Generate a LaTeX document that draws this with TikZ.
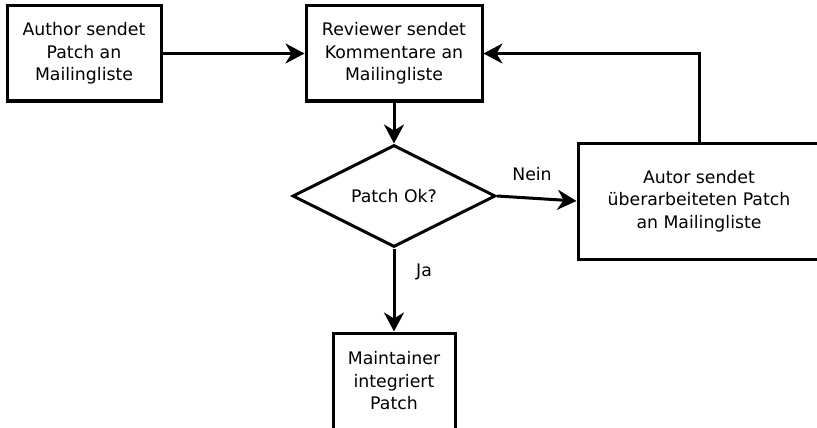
\documentclass[tikz,border=0pt]{standalone}
\usepackage{fontspec}
\setmainfont{DejaVu Sans}
\usetikzlibrary{shapes.geometric,arrows.meta}
\begin{document}
\begin{tikzpicture}[x=1pt,y=-1pt,
  lw/.style={line width=3pt},
  box/.style={draw,lw,rectangle,align=center,inner sep=0pt,font=\fontsize{17.3}{22.5}\selectfont},
  dia/.style={draw,lw,diamond,align=center,inner sep=0pt,font=\fontsize{17.3}{22.5}\selectfont},
  arr/.style={lw,-{Stealth[length=19pt,width=20pt,inset=6pt]}},
  lbl/.style={font=\fontsize{17.3}{22.5}\selectfont,inner sep=0pt}]
\useasboundingbox (0,0) rectangle (817,428);
\clip (0,0) rectangle (817,428);
\node[box,minimum width=154pt,minimum height=95pt] (b1) at (84,53.5) {Author sendet\\Patch an\\Mailingliste};
\node[box,minimum width=176pt,minimum height=95pt] (b2) at (394,53.5) {Reviewer sendet\\Kommentare an\\Mailingliste};
\node[dia,minimum width=203pt,minimum height=102pt] (d) at (394,196) {Patch Ok?};
\node[box,minimum width=242pt,minimum height=116pt] (r) at (699,201) {Autor sendet\\überarbeiteten Patch\\an Mailingliste};
\node[box,minimum width=122pt,minimum height=96pt] (m) at (394,381) {Maintainer\\integriert\\Patch};
\draw[arr] (b1.east) -- (b2.west);
\draw[arr] (b2.south) -- (d.north);
\draw[arr] (d.east) -- (r.west);
\draw[arr] (r.north) |- (b2.east);
\draw[arr] (d.south) -- (m.north);
\node[lbl] (nein) at (532,174) {Nein};
\node[lbl] (ja) at (424,272) {Ja};
\end{tikzpicture}
\end{document}
